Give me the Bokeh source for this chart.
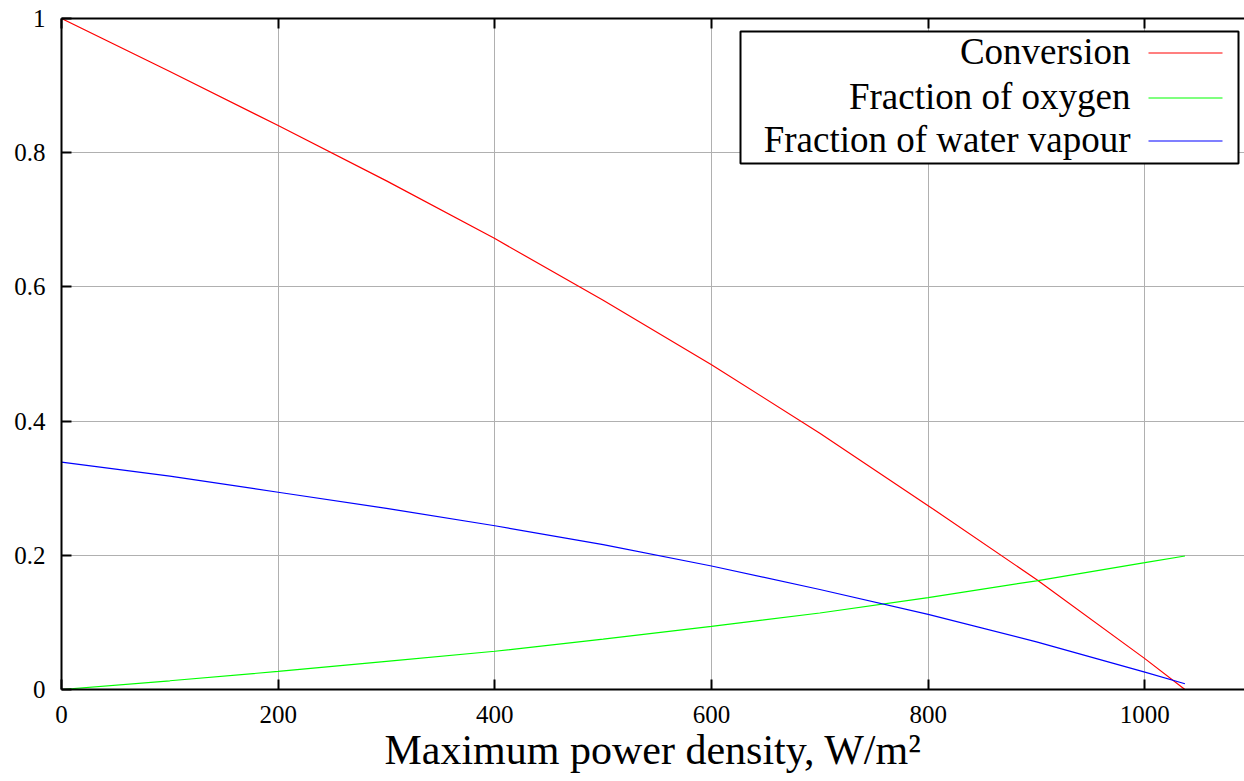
from bokeh.plotting import figure
from bokeh.models import (Range1d, LinearAxis, FixedTicker, Label, Arrow,
                          BoxAnnotation, ColumnDataSource)
from bokeh.embed import file_html
from bokeh.resources import INLINE

# ---- data ----
power_density = [0, 100, 200, 300, 400, 500, 600, 700, 800, 900, 1000, 1037]
conversion = [1.0, 0.921, 0.8405, 0.758, 0.672, 0.580, 0.484, 0.382, 0.274, 0.164, 0.046, 0.0]
oxygen_fraction = [0.0, 0.013, 0.027, 0.042, 0.057, 0.075, 0.094, 0.114, 0.137, 0.162, 0.189, 0.199]
water_fraction = [0.339, 0.318, 0.294, 0.270, 0.244, 0.216, 0.184, 0.149, 0.112, 0.071, 0.026, 0.0085]

series_names = ["Conversion", "Fraction of oxygen", "Fraction of water vapour"]
series_colors = ["#ff0000", "#00ff00", "#0000ff"]
x_ticks = [0, 200, 400, 600, 800, 1000]
y_ticks = [0, 0.2, 0.4, 0.6, 0.8, 1]
x_label = "Maximum power density, W/m\u00b2"

FONT = "Liberation Serif"

W, H = 1244, 781
FL, FT, FB = 61, 18, 689   # frame left, top, bottom (page px)

p = figure(width=W, height=H, output_backend="svg", toolbar_location=None,
           x_range=Range1d(0, 1092), y_range=Range1d(0, 1),
           min_border_left=FL, min_border_top=FT, min_border_bottom=H - FB,
           min_border_right=0, x_axis_location="below")
p.outline_line_color = None
p.background_fill_color = "white"
p.border_fill_color = "white"

src = ColumnDataSource(dict(x=power_density, conv=conversion,
                            oxy=oxygen_fraction, wat=water_fraction))
for col, c in zip(["conv", "oxy", "wat"], series_colors):
    p.line("x", col, source=src, line_color=c, line_width=1.2)

# axes styling
def style_axis(ax):
    ax.axis_line_color = "black"
    ax.axis_line_width = 2
    ax.major_tick_in = 10
    ax.major_tick_out = 0
    ax.major_tick_line_width = 2
    ax.major_tick_line_color = "black"
    ax.minor_tick_line_color = None
    ax.major_label_text_font = FONT
    ax.major_label_text_font_size = "25px"
    ax.major_label_text_color = "black"

xa = p.xaxis[0]
xa.ticker = FixedTicker(ticks=x_ticks)
style_axis(xa)
xa.major_label_standoff = 16
xa.axis_label = x_label
xa.axis_label_text_font = FONT
xa.axis_label_text_font_size = "42px"
xa.axis_label_text_font_style = "normal"
xa.axis_label_text_color = "black"
xa.axis_label_standoff = 1

ya = p.yaxis[0]
ya.ticker = FixedTicker(ticks=y_ticks)
style_axis(ya)
ya.major_label_standoff = 16
ya.major_label_overrides = {0: "0", 1: "1"}

# mirrored top axis: ticks only, no labels
top = LinearAxis(ticker=FixedTicker(ticks=x_ticks))
style_axis(top)
top.major_label_overrides = {t: "" for t in x_ticks}
top.major_label_standoff = 0
p.add_layout(top, "above")

p.xgrid.ticker = FixedTicker(ticks=x_ticks)
p.ygrid.ticker = FixedTicker(ticks=y_ticks)
for g in (p.xgrid[0], p.ygrid[0]):
    g.grid_line_color = "#b0b0b0"
    g.grid_line_width = 1

# ---- legend (text right, line sample on the right) ----
def sx(X):
    return X - FL

def sy(Y):
    return FB - Y

box = BoxAnnotation(left=sx(740), right=sx(1238), top=sy(31), bottom=sy(163),
                    left_units="screen", right_units="screen",
                    top_units="screen", bottom_units="screen",
                    fill_color="white", fill_alpha=1.0,
                    line_color="black", line_alpha=1.0, line_width=2)
p.add_layout(box)

row_y = [52, 97, 140]
for name, c, ry in zip(series_names, series_colors, row_y):
    p.add_layout(Label(x=sx(1130), y=sy(ry - 1), x_units="screen", y_units="screen",
                       text=name, text_align="right", text_baseline="alphabetic",
                       text_font=FONT, text_font_size="37px", text_color="black"))
    p.add_layout(Arrow(end=None, x_start=sx(1148), y_start=sy(ry) - 0.5,
                       x_end=sx(1222), y_end=sy(ry) - 0.5,
                       start_units="screen", end_units="screen",
                       line_color=c, line_width=1.2))

open("out.html", "w").write(file_html(p, INLINE))
